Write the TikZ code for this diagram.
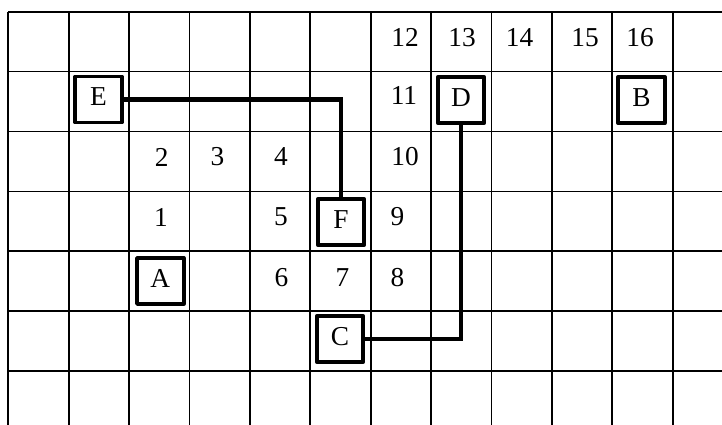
\documentclass[tikz,border=0pt]{standalone}
\usepackage{fontspec}
\setmainfont{Liberation Serif}
\begin{document}
\begin{tikzpicture}[
    x=0.75pt,y=-0.75pt,
    every node/.style={font=\fontsize{20.5}{24}\selectfont},
    gridline/.style={line width=1.3pt},
    cellbox/.style={draw,line width=2.8pt,line join=round,
        minimum width=35pt,minimum height=34.5pt,inner sep=0pt,text depth=4pt},
    route/.style={line width=3.6pt,line join=miter},
    num/.style={inner sep=0pt}]
    \useasboundingbox (0,0) rectangle (722,425);
    % grid
    \foreach \i in {0,...,11}
        \draw[gridline] ({8.3+60.4*\i},11.7) -- ({8.3+60.4*\i},425);
    \foreach \j in {0,...,6}
        \draw[gridline] (8.3,{11.7+59.9*\j}) -- (722,{11.7+59.9*\j});
    % numbered cells
    \node[num] (n12) at (405,37.5) {12};
    \node[num] (n13) at (462,37.5) {13};
    \node[num] (n14) at (519.5,37.5) {14};
    \node[num] (n15) at (585,37.5) {15};
    \node[num] (n16) at (640,37.5) {16};
    \node[num] (n11) at (404,95.5) {11};
    \node[num] (n2) at (161.7,157) {2};
    \node[num] (n3) at (217.5,157) {3};
    \node[num] (n4) at (281,157) {4};
    \node[num] (n10) at (405,157) {10};
    \node[num] (n1) at (161,217) {1};
    \node[num] (n5) at (281,216.5) {5};
    \node[num] (n9) at (397.5,216.5) {9};
    \node[num] (n6) at (281.5,277.5) {6};
    \node[num] (n7) at (342.5,277.5) {7};
    \node[num] (n8) at (397.5,277.5) {8};
    % lettered boxes
    \node[cellbox] (E) at (98.5,99.5) {E};
    \node[cellbox] (D) at (461,100) {D};
    \node[cellbox] (B) at (641.5,100) {B};
    \node[cellbox] (F) at (341,222) {F};
    \node[cellbox] (A) at (160.3,281) {A};
    \node[cellbox] (C) at (340,339) {C};
    % routes
    \draw[route] (E.east) -| (F.north);
    \draw[route] (D.south) |- (C.east);
\end{tikzpicture}
\end{document}
